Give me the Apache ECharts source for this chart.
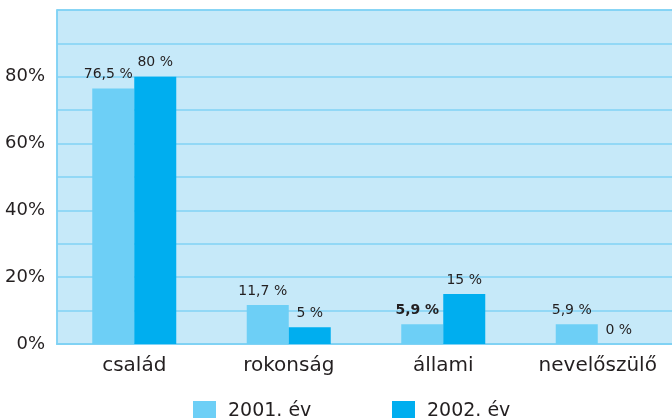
<!DOCTYPE html>
<html>
<head>
<meta charset="utf-8">
<script src="https://cdn.jsdelivr.net/npm/echarts@6/dist/echarts.min.js"></script>
<style>
html,body{margin:0;padding:0;background:#fff;}
#chart{width:672px;height:418px;}
</style>
</head>
<body>
<div id="chart"></div>
<script>
var categories = ['család', 'rokonság', 'állami', 'nevelőszülő'];
var seriesNames = ['2001. év', '2002. év'];
var values2001 = [76.5, 11.7, 5.9, 5.9];
var values2002 = [80, 5, 15, 0];
var yTickValues = [0, 20, 40, 60, 80];
var yTickLabels = ['0%', '20%', '40%', '60%', '80%'];

var FONT = "'DejaVu Sans', sans-serif";
var TEXT = '#231f20';
var LINE = '#80d2f4';

function fmt(p) { return String(p.value).replace('.', ',') + ' %'; }

function buildData(arr, boldIdx) {
  return arr.map(function (v, i) {
    var d = { value: v };
    if (i === boldIdx) d.label = { fontWeight: 'bold' };
    return d;
  });
}

var chart = echarts.init(document.getElementById('chart'), null, { renderer: 'canvas' });
chart.setOption({
  animation: false,
  backgroundColor: '#ffffff',
  textStyle: { fontFamily: FONT },
  grid: {
    left: 57, width: 618, top: 10, height: 334,
    outerBoundsMode: 'none',
    show: true, backgroundColor: '#c6e9f9', borderColor: LINE, borderWidth: 1.5
  },
  legend: [
    {
      data: [seriesNames[0]], left: 188, top: 396,
      itemWidth: 23, itemHeight: 21, icon: 'rect',
      textStyle: { fontFamily: FONT, fontSize: 19, color: TEXT, padding: [0, 0, 0, 7] }
    },
    {
      data: [seriesNames[1]], left: 387, top: 396,
      itemWidth: 23, itemHeight: 21, icon: 'rect',
      textStyle: { fontFamily: FONT, fontSize: 19, color: TEXT, padding: [0, 0, 0, 7] }
    }
  ],
  xAxis: {
    type: 'category',
    data: categories,
    axisTick: { show: false },
    axisLine: { lineStyle: { color: LINE, width: 2 } },
    axisLabel: { interval: 0, fontFamily: FONT, fontSize: 20, color: TEXT, margin: 12 }
  },
  yAxis: {
    type: 'value',
    min: 0, max: 100, interval: 10,
    axisLine: { show: true, lineStyle: { color: LINE, width: 1.5 } },
    axisTick: { show: false },
    splitLine: { show: true, lineStyle: { color: LINE, width: 1.5 } },
    axisLabel: {
      fontFamily: FONT, fontSize: 18, color: TEXT, margin: 12,
      formatter: function (v) {
        var i = yTickValues.indexOf(v);
        return i >= 0 ? yTickLabels[i] : '';
      }
    }
  },
  series: [
    {
      name: seriesNames[0], type: 'bar', barWidth: 42, barGap: '0%',
      itemStyle: { color: '#6dcff6' },
      label: { show: true, position: 'top', distance: 7, offset: [-5, 0],
               formatter: fmt, fontFamily: FONT, fontSize: 14, color: TEXT },
      data: buildData(values2001, 2)
    },
    {
      name: seriesNames[1], type: 'bar', barWidth: 42, barGap: '0%',
      itemStyle: { color: '#00aeef' },
      label: { show: true, position: 'top', distance: 7,
               formatter: fmt, fontFamily: FONT, fontSize: 14, color: TEXT },
      data: buildData(values2002, -1)
    }
  ]
});
</script>
</body>
</html>
